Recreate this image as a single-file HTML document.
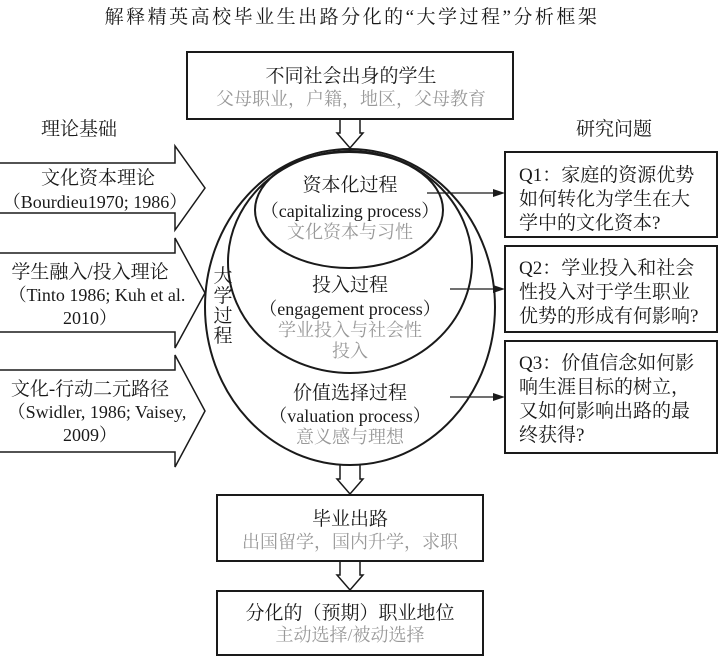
<!DOCTYPE html>
<html><head><meta charset="utf-8"><style>
html,body{margin:0;padding:0;background:#fff;}
svg{display:block;}
text{font-family:"Liberation Serif","Noto Serif CJK SC","Noto Sans CJK SC",serif;fill:#1a1a1a;}
.g{fill:#999;}
</style></head><body>
<svg width="720" height="658" viewBox="0 0 720 658" xmlns="http://www.w3.org/2000/svg">
<text x="352" y="23" font-size="19" text-anchor="middle" letter-spacing="2.5">解释精英高校毕业生出路分化的“大学过程”分析框架</text>
<g fill="none" stroke="#1a1a1a" stroke-width="2">
<rect x="187" y="52" width="326" height="67" fill="#fff"/>
<rect x="217" y="495" width="266" height="66"/>
<rect x="217" y="591" width="266" height="64"/>
<rect x="505" y="152" width="212" height="85"/>
<rect x="505" y="246" width="212" height="86"/>
<rect x="505" y="341" width="212" height="112"/>
<path d="M340 119 V133 H337 L350 148 L363 133 H360 V119" stroke-width="1.5"/>
<path d="M340 465 V479 H337 L350 494 L363 479 H360 V465" stroke-width="1.5"/>
<path d="M340 561 V575 H337 L350 590 L363 575 H360 V561" stroke-width="1.5"/>
<path d="M0 163 H175 V146 L205 188 L175 230 V213 H0" stroke-width="1.5"/>
<path d="M0 253 H175 V238 L205 293 L175 348 V332 H0" stroke-width="1.5"/>
<path d="M0 370 H175 V355 L205 411 L175 467 V452 H0" stroke-width="1.5"/>
<ellipse cx="350" cy="307" rx="145" ry="158"/>
<ellipse cx="350" cy="262" rx="122" ry="111"/>
<ellipse cx="349" cy="210" rx="94" ry="58"/>
<path d="M427 193 H497" stroke-width="1.3"/>
<path d="M450 289 H497" stroke-width="1.3"/>
<path d="M450 397 H497" stroke-width="1.3"/>
</g>
<path d="M505 193 L493 189 V197 Z M505 289 L493 285 V293 Z M505 397 L493 393 V401 Z" fill="#1a1a1a"/>
<text x="351" y="82" font-size="19" text-anchor="middle">不同社会出身的学生</text>
<text x="351" y="105" font-size="18" text-anchor="middle" class="g">父母职业，户籍，地区，父母教育</text>
<text x="79" y="135" font-size="19" text-anchor="middle">理论基础</text>
<text x="614" y="135" font-size="19" text-anchor="middle">研究问题</text>
<text x="98" y="184" font-size="19" text-anchor="middle">文化资本理论</text>
<text x="95" y="208" font-size="18" text-anchor="middle">（Bourdieu1970; 1986）</text>
<text x="90" y="278" font-size="19" text-anchor="middle">学生融入/投入理论</text>
<text x="97" y="301" font-size="18" text-anchor="middle">（Tinto 1986; Kuh et al.</text>
<text x="90" y="324" font-size="18" text-anchor="middle">2010）</text>
<text x="90" y="395" font-size="19" text-anchor="middle">文化-行动二元路径</text>
<text x="97" y="418" font-size="18" text-anchor="middle">（Swidler, 1986; Vaisey,</text>
<text x="90" y="441" font-size="18" text-anchor="middle">2009）</text>
<text x="223" y="282" font-size="19" text-anchor="middle">大</text>
<text x="223" y="302" font-size="19" text-anchor="middle">学</text>
<text x="223" y="322" font-size="19" text-anchor="middle">过</text>
<text x="223" y="342" font-size="19" text-anchor="middle">程</text>
<text x="350" y="191" font-size="19" text-anchor="middle">资本化过程</text>
<text x="350" y="217" font-size="18" text-anchor="middle">（capitalizing process）</text>
<text x="350" y="238" font-size="18" text-anchor="middle" class="g">文化资本与习性</text>
<text x="350" y="291" font-size="19" text-anchor="middle">投入过程</text>
<text x="350" y="315" font-size="18" text-anchor="middle">（engagement process）</text>
<text x="350" y="336" font-size="18" text-anchor="middle" class="g">学业投入与社会性</text>
<text x="350" y="357" font-size="18" text-anchor="middle" class="g">投入</text>
<text x="350" y="399" font-size="19" text-anchor="middle">价值选择过程</text>
<text x="350" y="422" font-size="18" text-anchor="middle">（valuation process）</text>
<text x="350" y="443" font-size="18" text-anchor="middle" class="g">意义感与理想</text>
<g font-size="19">
<text x="519" y="181">Q1：家庭的资源优势</text>
<text x="519" y="205">如何转化为学生在大</text>
<text x="519" y="229">学中的文化资本?</text>
<text x="519" y="274">Q2：学业投入和社会</text>
<text x="519" y="298">性投入对于学生职业</text>
<text x="519" y="322">优势的形成有何影响?</text>
<text x="519" y="369">Q3：价值信念如何影</text>
<text x="519" y="393">响生涯目标的树立，</text>
<text x="519" y="417">又如何影响出路的最</text>
<text x="519" y="441">终获得?</text>
</g>
<text x="350" y="525" font-size="19" text-anchor="middle">毕业出路</text>
<text x="350" y="548" font-size="18" text-anchor="middle" class="g">出国留学，国内升学，求职</text>
<text x="350" y="619" font-size="19" text-anchor="middle">分化的（预期）职业地位</text>
<text x="350" y="641" font-size="18" text-anchor="middle" class="g">主动选择/被动选择</text>
</svg>
</body></html>
